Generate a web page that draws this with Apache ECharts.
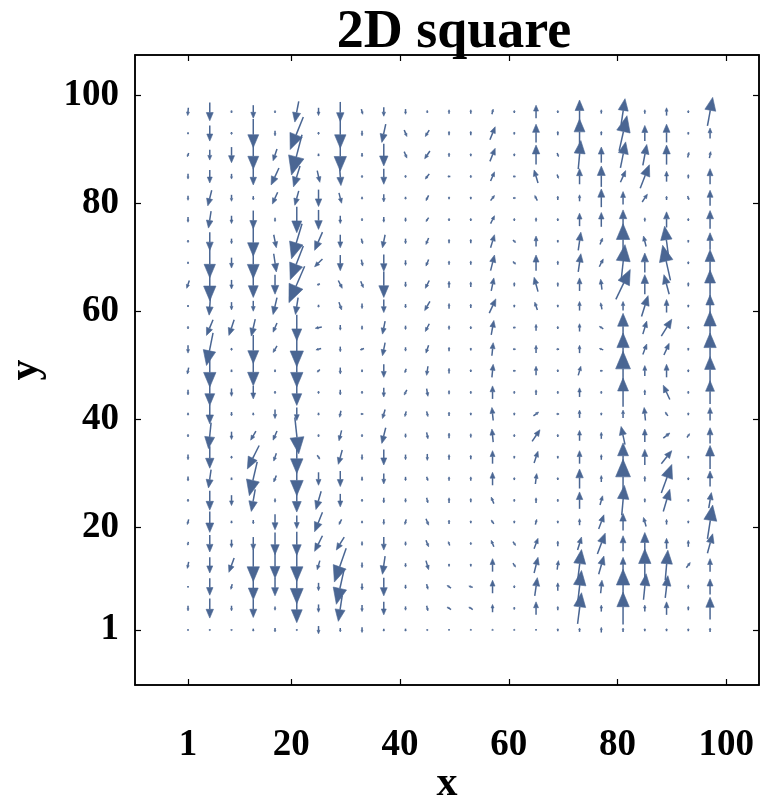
<!DOCTYPE html>
<html>
<head>
<meta charset="utf-8">
<script src="https://cdn.jsdelivr.net/npm/echarts@6/dist/echarts.min.js"></script>
<style>html,body{margin:0;padding:0;background:#fff}#c{width:761px;height:802px}</style>
</head>
<body>
<div id="c"></div>
<script>
// grid positions of the arrows
const X_VALUES = [1,5,9,13,17,21,25,29,33,37,41,45,49,53,57,61,65,69,73,77,81,85,89,93,97];
const Y_VALUES = [1,5,9,13,17,21,25,29,33,37,41,45,49,53,57,61,65,69,73,77,81,85,89,93,97];
const X_TICKS = [1,20,40,60,80,100];
const Y_TICKS = [1,20,40,60,80,100];
// vector components, one row per x column, listed from y=1 (bottom) to y=97 (top)
const U = [
 [0,0,0,-1,-0.5,-1,0,0,0,0,0,0,-1,0,0,0,-2,0,0,0,0,0,-1,0,-0.5],
 [0,0,0,0,0,0,0,-2,0,-2,0,0,0,-5,-5,-1,0,0,0,-2,-3,0,0,0,0],
 [0,0,-1,-4,0,0,0,0,0,0,0,0,0,0,-4,0,0,0,0,0,0,0,0,0,0],
 [0,0,0,0,0,0,-3,-6,-9,-4,0,0,0,0,-3,0,0,0,0,0,0,0,0,0,0],
 [0,0,0,0,0,0,0,-2,-2,-3,0,0,0,-3,-3,-3,0,2,2,0,-4,-6,-3,0,0],
 [0,0,0,0,0,0,0,0,0,3,0,0,0,0,0,-2,-12,-10,-8,0,-3,-5,-8,-10,-3],
 [0,0,0,-2,-6,-6,-4,0,2,0,0,0,-2,-4,-5,0,-2,-6,-6,0,0,2,0,0,0],
 [0,-3,-6,-9,-6,-2,0,0,-3,-2,-1,0,0,0,0,2,3,0,0,0,2,1,0,0,0],
 [0,0,0,0,0,0,0,0,0,0,-2,0,0,-3,0,0,2,1,1,0,0,0,0,0,1],
 [0,0,0,-2,0,0,0,0,0,-3,-2,0,0,-2,-2,0,0,0,-2,0,0,0,0,-3,0],
 [0,0,0,0,0,-1,0,0,0,0,-1,-2,-1,0,0,0,0,0,0,0,0,0,2,2,0],
 [0,1,1,2,2,2,1,1,0,1,1,1,-1,-2,-3,-4,-3,-2,-2,-2,-2,-3,-4,-3,0],
 [0,-3,-3,0,-1,0,0,0,0,0,0,0,0,0,0,0,0,0,0,0,0,-2,0,0,0],
 [0,-3,-3,0,0,0,0,0,0,0,0,0,0,0,0,0,0,0,0,0,0,0,0,0,0],
 [0,0,0,0,-2,-2,-2,0,0,-1,-1,0,1,1,2,5,2,3,3,3,3,3,4,4,1],
 [0,0,0,2,2,0,0,0,0,0,0,0,-2,-2,-2,0,0,2,2,0,-2,-2,0,0,0],
 [0,0,2,3,3,1,0,1,3,6,4,0,0,0,0,-2,-3,0,0,0,-2,-3,0,0,0],
 [0,0,0,1,0,0,0,0,0,0,-2,0,0,-2,0,0,0,0,0,0,0,1,1,0,0],
 [0,3,3,3,3,0,0,0,0,0,0,0,2,0,0,0,0,2,2,0,0,0,2,0,0],
 [0,0,1,4,6,4,2,0,0,0,0,0,-2,-3,-3,-1,-1,3,2,0,0,0,0,0,0],
 [0,0,0,0,0,0,2,0,0,-3,0,0,0,0,0,0,11,3,0,0,0,4,4,6,3],
 [0,0,2,0,0,-2,0,0,0,0,-1,0,0,3,3,5,0,0,-2,0,4,7,3,0,0],
 [0,0,2,2,0,0,5,8,8,5,-2,-5,0,4,8,0,-4,-6,-3,0,0,0,0,0,0],
 [0,0,0,3,0,0,0,0,0,2,0,0,0,0,0,0,0,0,0,0,1,0,1,0,0],
 [0,0,0,0,4,4,2,0,0,0,0,0,0,0,0,0,0,0,0,0,0,0,1,0,4]
];
const V = [
 [-1,-4,-1,-5,-2.5,-4,-2,-3.5,-4,-2,-2,-4,-5,-6,-2,-1.5,-6,-1.5,-2,-4,-3.5,-4,-3,-1.5,-6],
 [-1,-15,-13,-12,-13,-16,-15,-14,-17,-20,-15,-20,-25,-25,-12,-14,-25,-23,-14,-13,-12,-10,-8,-12,-14],
 [-1,-4,-4,-11,-6,-2,-8,-2,-2,-6,-3,-6,-2,-2,-12,-6,-7,-8,-4,-6,-5,-4,-12,-2,-2],
 [-2,-14,-20,-25,-10,-3,-17,-26,-18,-7,-2,-10,-23,-22,-13,-8,-20,-24,-23,-14,-3,-13,-22,-22,-10],
 [-3,-3,-14,-20,-17,-12,-3,-5,-6,-7,-7,-2,-2,-5,-7,-13,-15,-14,-10,-3,-9,-13,-9,-4,-2],
 [-1,-22,-26,-25,-18,-10,-18,-26,-25,-28,-10,-20,-25,-27,-20,-13,-28,-26,-27,-20,-11,-16,-31,-25,-16],
 [-6,-6,-6,-7,-12,-15,-14,-10,-3,-2,-2,-2,-2,-1,-1,-2,-1,-6,-14,-15,-13,-9,-2,-2,-6],
 [-3,-20,-27,-26,-10,-4,-10,-12,-11,-8,-5,-4,-5,-4,-4,-6,-6,-12,-10,-6,-8,-14,-25,-23,-15],
 [-4,-5,-5,-4,-3,-2,-2,-3,-4,-2,0,-2,-2,-1,-3,-4,-5,-5,-4,-2,-2,-2,-3,-4,-4],
 [-2,-10,-14,-14,-10,-4,-4,-8,-12,-12,-7,-7,-10,-10,-10,-10,-20,-13,-10,-4,-6,-12,-17,-14,-7],
 [-2,-3,-3,-3,-3,-4,-3,-3,-4,-3,-4,-4,-3,-3,-3,-3,-4,-4,-4,-3,-2,-2,-5,-5,-4],
 [-1,-4,-4,-7,-5,-5,-4,-3,-5,-5,-4,-6,-7,-6,-6,-7,-6,-5,-5,-3,-4,-4,-6,-5,-2],
 [1,2,2,2,3,3,4,3,4,4,3,3,4,3,3,4,5,3,3,2,2,0,3,3,3],
 [1,2,1,2,2,2,3,3,3,3,2,2,2,2,2,3,4,3,3,2,2,2,2,3,3],
 [1,6,10,10,5,3,5,10,10,10,10,10,10,10,11,11,10,12,10,6,4,7,10,10,4],
 [1,2,2,-3,-3,2,2,2,2,2,2,2,0,0,0,2,3,-2,-2,2,0,0,2,2,2],
 [1,10,14,12,8,4,4,8,9,9,3,4,7,6,5,6,11,12,8,3,4,10,15,14,10],
 [2,3,6,7,4,2,2,2,2,2,0,2,2,0,2,2,3,3,2,2,3,-3,-3,3,2],
 [3,24,25,24,10,5,13,15,10,8,6,7,7,6,6,7,10,14,14,10,5,12,22,22,18],
 [4,5,10,14,16,11,7,5,4,5,2,2,0,1,2,5,8,6,5,11,14,16,12,3,3],
 [3,25,27,12,12,13,23,30,22,14,6,22,30,25,22,7,23,28,27,15,10,9,20,27,20],
 [2,5,20,25,17,7,3,4,12,10,10,4,8,8,10,16,15,15,8,3,6,18,16,12,3],
 [2,10,17,23,8,4,17,22,10,4,3,11,10,9,13,10,15,27,23,12,3,8,15,14,6],
 [2,3,3,4,5,2,2,2,2,3,2,2,2,2,2,2,3,2,2,2,-3,3,4,2,2],
 [3,17,12,10,15,26,12,12,18,12,10,18,22,25,25,17,22,20,13,14,12,12,5,8,22]
];
const TITLE = '2D square';
const X_NAME = 'x';
const Y_NAME = 'y';

const COLOR = '#4a6693';
const K = 1.3 / 5.4; // data units per stored unit (vector scale)

const data = [];
X_VALUES.forEach((x, i) => {
  Y_VALUES.forEach((y, j) => {
    data.push([x, y, U[i][j], V[i][j]]);
  });
});

const FONT = '"Liberation Serif", "Times New Roman", serif';
const chart = echarts.init(document.getElementById('c'), null, {renderer: 'canvas'});

function renderItem(params, api) {
  const x = api.value(0), y = api.value(1), u = api.value(2), v = api.value(3);
  const tail = api.coord([x - u * K / 2, y - v * K / 2]);
  const tip = api.coord([x + u * K / 2, y + v * K / 2]);
  const dx = tip[0] - tail[0], dy = tip[1] - tail[1];
  const L = Math.hypot(dx, dy);
  if (L < 0.01) return null;
  const ux = dx / L, uy = dy / L;
  const hl = L * 0.45, hw = Math.max(L * 0.19, 0.9);
  const base = [tip[0] - ux * hl, tip[1] - uy * hl];
  const p1 = [base[0] - uy * hw, base[1] + ux * hw];
  const p2 = [base[0] + uy * hw, base[1] - ux * hw];
  return {
    type: 'group',
    children: [
      {type: 'line', shape: {x1: tail[0], y1: tail[1], x2: base[0], y2: base[1]},
       style: {stroke: COLOR, lineWidth: 1.5}},
      {type: 'polygon', shape: {points: [tip, p1, p2]}, style: {fill: COLOR, stroke: COLOR, lineWidth: 0.6}}
    ]
  };
}

const tickCommon = {inside: true, length: 6, lineStyle: {color: '#000', width: 1.2}};
const labelCommon = {color: '#000', fontFamily: FONT, fontWeight: 'bold', fontSize: 37};
const lineCommon = {show: true, onZero: false, lineStyle: {color: '#000', width: 1.5}};

chart.setOption({
  animation: false,
  backgroundColor: '#fff',
  title: {
    text: TITLE, left: 449, top: 1, textAlign: 'center',
    textStyle: {fontFamily: FONT, fontWeight: 'bold', fontSize: 54, color: '#000'}
  },
  grid: {left: 135, top: 55, right: 2, bottom: 117, outerBoundsMode: 'none', containLabel: false,
         show: true, borderColor: '#000', borderWidth: 1.5},
  xAxis: [
    {type: 'value', min: -8.75, max: 106, position: 'bottom',
     name: X_NAME, nameLocation: 'middle', nameGap: 78, nameMoveOverlap: false,
     nameTextStyle: {fontFamily: FONT, fontWeight: 'bold', fontSize: 42, color: '#000'},
     axisLine: lineCommon,
     axisTick: Object.assign({customValues: X_TICKS}, tickCommon),
     axisLabel: Object.assign({customValues: X_TICKS, margin: 42}, labelCommon),
     splitLine: {show: false}},
    {type: 'value', min: -8.75, max: 106, position: 'top',
     axisLine: lineCommon,
     axisTick: Object.assign({customValues: X_TICKS}, tickCommon),
     axisLabel: {show: false}, splitLine: {show: false}}
  ],
  yAxis: [
    {type: 'value', min: -9.2, max: 107.5, position: 'left',
     name: Y_NAME, nameLocation: 'middle', nameGap: 88, nameRotate: 90, nameMoveOverlap: false,
     nameTextStyle: {fontFamily: FONT, fontWeight: 'bold', fontSize: 42, color: '#000'},
     axisLine: lineCommon,
     axisTick: Object.assign({customValues: Y_TICKS}, tickCommon),
     axisLabel: Object.assign({customValues: Y_TICKS, margin: 16}, labelCommon),
     splitLine: {show: false}},
    {type: 'value', min: -9.2, max: 107.5, position: 'right',
     axisLine: lineCommon,
     axisTick: Object.assign({customValues: Y_TICKS}, tickCommon),
     axisLabel: {show: false}, splitLine: {show: false}}
  ],
  series: [{
    type: 'custom',
    xAxisIndex: 0, yAxisIndex: 0,
    renderItem: renderItem,
    data: data,
    clip: true
  }]
});
</script>
</body>
</html>
